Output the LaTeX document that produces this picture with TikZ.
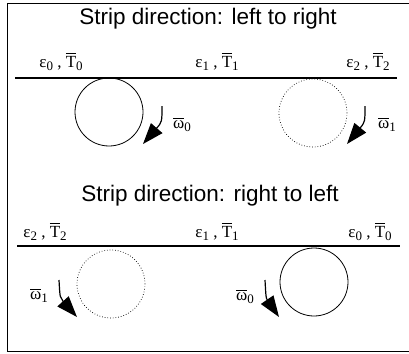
\documentclass[tikz,border=0pt]{standalone}
\usepackage{fontspec}
\setmainfont{Liberation Serif}
\newfontfamily\titlefont{Liberation Sans}
\usetikzlibrary{arrows.meta}
\newcommand{\ob}[1]{\leavevmode\vbox{\hrule height 0.9pt\kern1.6pt\hbox{#1}}}
\newcommand{\sbs}[1]{\raisebox{-0.45ex}{\fontsize{13}{13}\selectfont #1}}
\tikzset{
  x=1pt,y=-1pt,
  title/.style={font=\titlefont\fontsize{22.5}{24}\selectfont, inner sep=0pt},
  lab/.style={font=\fontsize{17}{18}\selectfont, inner sep=0pt, anchor=base},
  roll/.style={circle, draw, line width=0.8pt, minimum size=68pt, inner sep=0pt},
  rolldot/.style={circle, draw, dotted, line width=0.7pt, minimum size=68pt, inner sep=0pt},
  strip/.style={line width=1.2pt},
  rot/.style={line width=1.2pt, -{Triangle[length=21pt,width=15pt]}},
  wlab/.style={font=\fontsize{17}{18}\selectfont, inner sep=0pt}
}
\begin{document}
\begin{tikzpicture}
\useasboundingbox (0,0) rectangle (409,353);
% frame (left, top, bottom)
\draw[line width=1pt] (409,4) -- (7,4) -- (7,351) -- (409,351);

% ---- top part
\node[title] (t1) at (208,19) {Strip direction: left to right};
\coordinate (s1a) at (15,78);
\coordinate (s1b) at (397,78);
\draw[strip] (s1a) -- (s1b);
\node[lab] (l10) at (61,67) {ε\sbs{0} , \ob{T}\sbs{0}};
\node[lab] (l11) at (217,67) {ε\sbs{1} , \ob{T}\sbs{1}};
\node[lab] (l12) at (368,67) {ε\sbs{2} , \ob{T}\sbs{2}};
\node[roll] (c10) at (109,112) {};
\node[rolldot] (c11) at (313,113) {};
\coordinate (a1s) at (162,106);
\coordinate (a1e) at (143,144);
\draw[rot] (a1s) .. controls (162,122) .. (a1e);
\coordinate (a2s) at (365,106);
\coordinate (a2e) at (347,144);
\draw[rot] (a2s) .. controls (365,122) .. (a2e);
\node[wlab] (w10) at (182,125) {\ob{ω}\sbs{0}};
\node[wlab] (w11) at (387,125) {\ob{ω}\sbs{1}};

% ---- bottom part
\node[title] (t2) at (210,196) {Strip direction: right to left};
\coordinate (s2a) at (17,246);
\coordinate (s2b) at (400,246);
\draw[strip] (s2a) -- (s2b);
\node[lab] (l22) at (45,237) {ε\sbs{2} , \ob{T}\sbs{2}};
\node[lab] (l21) at (217,237) {ε\sbs{1} , \ob{T}\sbs{1}};
\node[lab] (l20) at (370,237) {ε\sbs{0} , \ob{T}\sbs{0}};
\node[rolldot] (c21) at (111,284) {};
\node[roll] (c20) at (314,282) {};
\coordinate (a3s) at (59,280);
\coordinate (a3e) at (77,317);
\draw[rot] (a3s) .. controls (60,298) .. (a3e);
\coordinate (a4s) at (265,280);
\coordinate (a4e) at (279,317);
\draw[rot] (a4s) .. controls (266,298) .. (a4e);
\node[wlab] (w21) at (39,296) {\ob{ω}\sbs{1}};
\node[wlab] (w20) at (245,297) {\ob{ω}\sbs{0}};
\end{tikzpicture}
\end{document}
